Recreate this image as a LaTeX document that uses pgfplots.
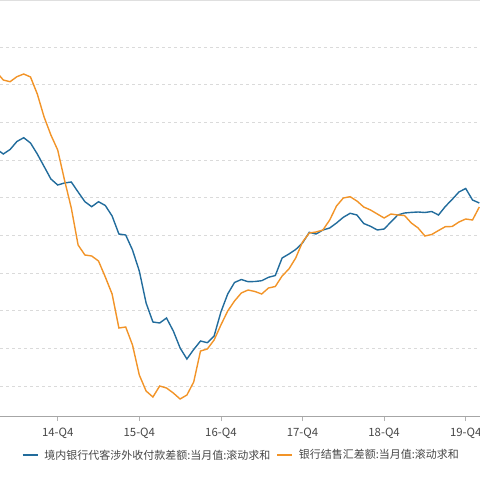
\documentclass[border=0pt]{standalone}
\usepackage{pgfplots}
\pgfplotsset{compat=1.18}
\usepackage{fontspec}
\setmainfont{Noto Sans CJK SC}
\definecolor{cblue}{RGB}{34,108,156}
\definecolor{corange}{RGB}{242,148,40}
\definecolor{cgrid}{RGB}{218,218,218}
\definecolor{ctext}{RGB}{70,70,70}
\begin{document}
\begin{tikzpicture}[x=1pt,y=1pt]
\useasboundingbox (0,0) rectangle (480,480);
\begin{axis}[
  at={(0,64)}, anchor=south west,
  width=480pt, height=416pt, scale only axis,
  xmin=-0.485, xmax=70.1, ymin=0, ymax=416,
  axis x line*=bottom, axis y line*=left,
  x axis line style={-, draw=gray!70, line width=0.8pt},
  y axis line style={draw=none},
  xtick={8,20,32,44,56,68},
  xticklabels={14-Q4,15-Q4,16-Q4,17-Q4,18-Q4,19-Q4},
  ytick={30,67.67,105.33,143,180.67,218.33,256,293.67,331.33,369},
  yticklabels={},
  ytick style={draw=none},
  tick align=outside,
  xtick style={draw=gray!60, line width=0.7pt},
  major tick length=5pt,
  xticklabel style={font=\fontsize{11.4}{13}\selectfont, text=ctext, yshift=-3pt},
  ymajorgrids,
  grid style={draw=cgrid, line width=0.8pt, dash pattern=on 3pt off 3pt},
  legend columns=2,
  legend style={at={(0.503,-0.094)}, anchor=center, draw=none, fill=none,
    font=\fontsize{11}{13}\selectfont, text=ctext,
    /tikz/every odd column/.append style={column sep=4pt},
    /tikz/every even column/.append style={column sep=4pt}},
  legend image code/.code={\draw[#1] (0pt,0pt) -- (15pt,0pt);},
  clip=true,
]
\addplot[cblue, line width=1.4pt] coordinates {
(-1,267)(0,262)(1,266.5)(2,274.5)(3,278.3)(4,273)(5,262)(6,249.5)(7,237)(8,231)(9,233)
(10,234)(11,224)(12,214.3)(13,209.3)(14,214.3)(15,210.5)(16,200)(17,182)(18,181)(19,166)
(20,145)(21,113)(22,94)(23,93)(24,98)(25,85)(26,68)(27,57)(28,66.5)(29,75)
(30,73.3)(31,80)(32,104)(33,122)(34,133.5)(35,136.5)(36,134.3)(37,134.5)(38,135.3)(39,138.7)
(40,140.5)(41,158)(42,162)(43,166.5)(44,173)(45,183.7)(46,182)(47,186)(48,188)(49,193)
(50,198.7)(51,202.7)(52,201)(53,192.5)(54,189.7)(55,186)(56,187)(57,194)(58,201)(59,203)
(60,203.6)(61,204)(62,203.5)(63,204.5)(64,201)(65,209.5)(66,216.5)(67,224)(68,227.5)(69,216)
(70,213)};
\addlegendentry{境内银行代客涉外收付款差额:当月值:滚动求和}
\addplot[corange, line width=1.4pt] coordinates {
(-1,344)(0,336)(1,334.3)(2,339.3)(3,342)(4,339)(5,322)(6,299)(7,281)(8,266)(9,236)
(10,208)(11,171)(12,161)(13,160)(14,155)(15,139)(16,122)(17,88)(18,89)(19,71)
(20,41)(21,25)(22,19)(23,30)(24,28)(25,23)(26,17)(27,21)(28,34)(29,65)
(30,67)(31,76)(32,91)(33,105)(34,115)(35,123)(36,126)(37,124.5)(38,122)(39,128)
(40,129.5)(41,140)(42,147)(43,158)(44,174)(45,183)(46,184)(47,186)(48,196)(49,210)
(50,218)(51,219.3)(52,215)(53,209)(54,206)(55,202)(56,198)(57,202)(58,201)(59,200.5)
(60,193)(61,188)(62,180)(63,181.5)(64,185.5)(65,189.3)(66,189.5)(67,194)(68,197)(69,196)
(70,209)};
\addlegendentry{银行结售汇差额:当月值:滚动求和}
\end{axis}
\draw[gray!25, line width=1.6pt] (0,480) -- (480,480);
\end{tikzpicture}
\end{document}
